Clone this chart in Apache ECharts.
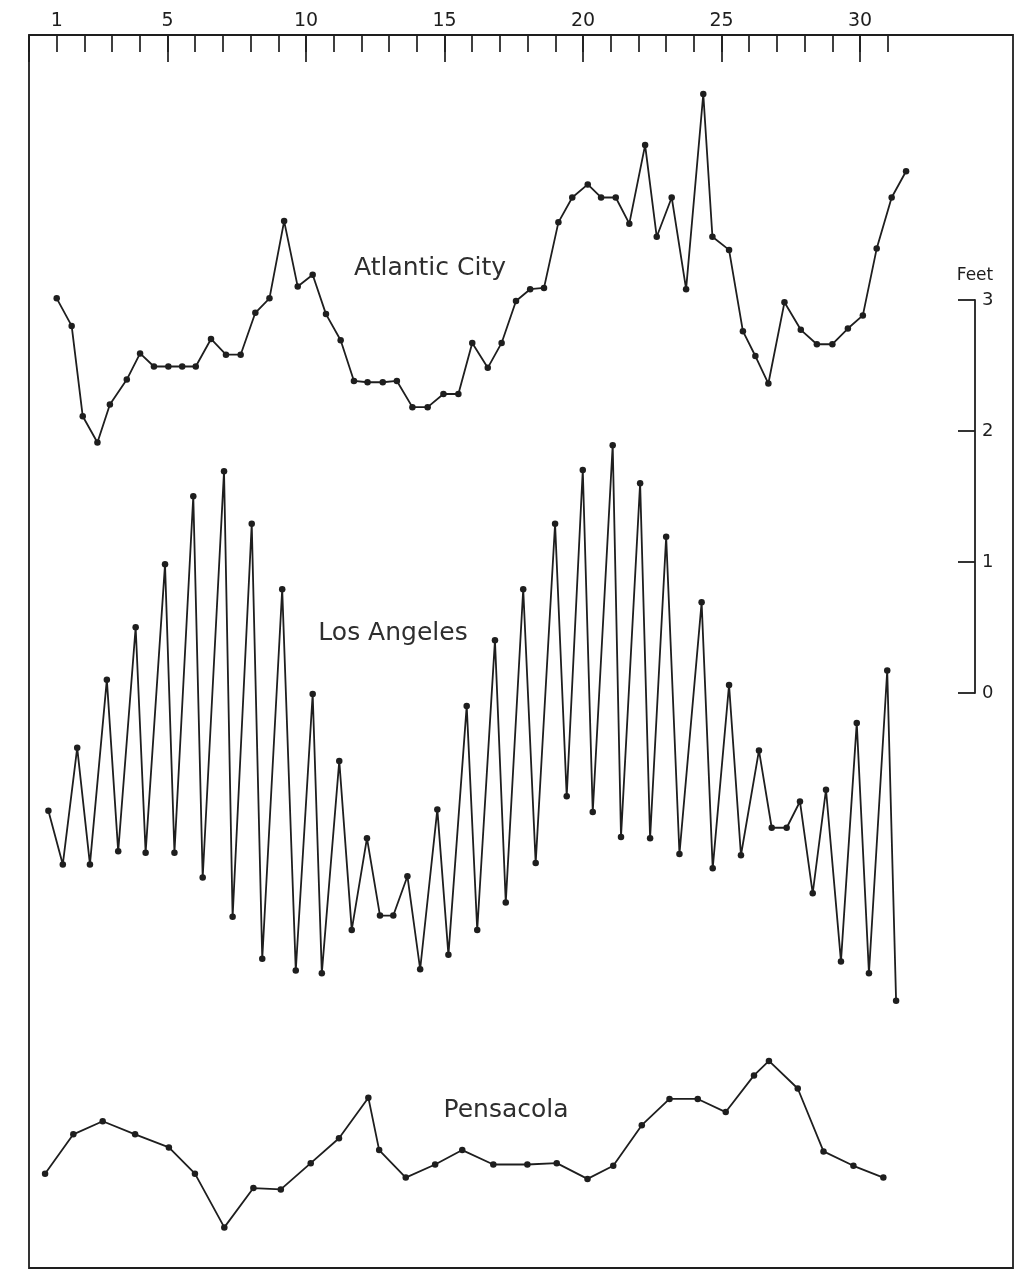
<!DOCTYPE html>
<html>
<head>
<meta charset="utf-8">
<script src="https://cdn.jsdelivr.net/npm/echarts@6.0.0/dist/echarts.min.js"></script>
<style>
  html, body { margin: 0; padding: 0; background: #fff; }
  #tideChart { width: 1024px; height: 1278px; }
</style>
</head>
<body>
<div id="tideChart"></div>
<script>
// day of month (x) and height on the feet scale (y)
const atlanticDays = [1.00, 1.54, 1.94, 2.47, 2.92, 3.53, 4.01, 4.51, 5.03, 5.53, 6.02, 6.57, 7.11, 7.64, 8.17,
  8.68, 9.21, 9.70, 10.24, 10.72, 11.25, 11.73, 12.22, 12.77, 13.28, 13.84, 14.39, 14.96, 15.50, 16.00,
  16.56, 17.06, 17.58, 18.09, 18.59, 19.11, 19.61, 20.17, 20.65, 21.18, 21.67, 22.24, 22.66, 23.20, 23.72,
  24.34, 24.67, 25.27, 25.77, 26.22, 26.69, 27.27, 27.86, 28.44, 29.00, 29.56, 30.10, 30.60, 31.14, 31.66];
const atlanticFeet = [3.01, 2.80, 2.11, 1.91, 2.20, 2.39, 2.59, 2.49, 2.49, 2.49, 2.49, 2.70, 2.58, 2.58, 2.90,
  3.01, 3.60, 3.10, 3.19, 2.89, 2.69, 2.38, 2.37, 2.37, 2.38, 2.18, 2.18, 2.28, 2.28, 2.67,
  2.48, 2.67, 2.99, 3.08, 3.09, 3.59, 3.78, 3.88, 3.78, 3.78, 3.58, 4.18, 3.48, 3.78, 3.08,
  4.57, 3.48, 3.38, 2.76, 2.57, 2.36, 2.98, 2.77, 2.66, 2.66, 2.78, 2.88, 3.39, 3.78, 3.98];

const laDays = [0.70, 1.22, 1.74, 2.20, 2.81, 3.22, 3.85, 4.21, 4.91, 5.25, 5.93, 6.27, 7.04, 7.35, 8.04,
  8.42, 9.14, 9.63, 10.24, 10.57, 11.20, 11.65, 12.20, 12.67, 13.15, 13.66, 14.12, 14.74, 15.14, 15.80,
  16.18, 16.82, 17.21, 17.84, 18.29, 18.99, 19.41, 19.99, 20.35, 21.07, 21.37, 22.06, 22.42, 23.00, 23.48,
  24.28, 24.68, 25.27, 25.70, 26.35, 26.81, 27.35, 27.83, 28.29, 28.77, 29.31, 29.88, 30.32, 30.98, 31.30];
const laFeet = [-0.90, -1.31, -0.42, -1.31, 0.10, -1.21, 0.50, -1.22, 0.98, -1.22, 1.50, -1.41, 1.69, -1.71, 1.29,
  -2.03, 0.79, -2.12, -0.01, -2.14, -0.52, -1.81, -1.11, -1.70, -1.70, -1.40, -2.11, -0.89, -2.00, -0.10,
  -1.81, 0.40, -1.60, 0.79, -1.30, 1.29, -0.79, 1.70, -0.91, 1.89, -1.10, 1.60, -1.11, 1.19, -1.23,
  0.69, -1.34, 0.06, -1.24, -0.44, -1.03, -1.03, -0.83, -1.53, -0.74, -2.05, -0.23, -2.14, 0.17, -2.35];

const pensacolaDays = [0.58, 1.60, 2.66, 3.83, 5.05, 5.99, 7.05, 8.10, 9.09, 10.17, 11.19, 12.25, 12.64, 13.60, 14.66,
  15.64, 16.76, 17.99, 19.05, 20.16, 21.09, 22.12, 23.12, 24.14, 25.15, 26.17, 26.71, 27.75, 28.68, 29.76, 30.84];
const pensacolaFeet = [-3.67, -3.37, -3.27, -3.37, -3.47, -3.67, -4.08, -3.78, -3.79, -3.59, -3.40, -3.09, -3.49, -3.70, -3.60,
  -3.49, -3.60, -3.60, -3.59, -3.71, -3.61, -3.30, -3.10, -3.10, -3.20, -2.92, -2.81, -3.02, -3.50, -3.61, -3.70];

const dayLabels = [1, 5, 10, 15, 20, 25, 30];
const stationNames = ['Atlantic City', 'Los Angeles', 'Pensacola'];

const ink = '#1e1e1e';
const font = 'DejaVu Sans';

function pairs(xs, ys) {
  return xs.map((x, i) => [x, ys[i]]);
}

function tideLine(name, xs, ys) {
  return {
    name: name,
    type: 'line',
    xAxisIndex: 0,
    yAxisIndex: 0,
    data: pairs(xs, ys),
    symbol: 'circle',
    symbolSize: 6.5,
    clip: false,
    lineStyle: { color: ink, width: 1.8 },
    itemStyle: { color: ink },
  };
}

function stationText(name, x, y) {
  return {
    type: 'text', x: x, y: y,
    style: { text: name, font: '25px "DejaVu Sans"', fill: '#2e2e2e', textAlign: 'center', textVerticalAlign: 'middle' },
  };
}

const myChart = echarts.init(document.getElementById('tideChart'));

let option = {
  backgroundColor: '#fff',
  animation: false,
  grid: [
    // frame + data area
    { left: 29, right: 11, top: 35, bottom: 10, show: true, borderColor: ink, borderWidth: 1.8 },
    // day ticks
    { left: 29, top: 35, width: 858.7, height: 1 },
    // long ticks every 5 days
    { left: 29, top: 35, width: 831, height: 1 },
    // feet scale
    { left: 965, top: 300, width: 10, height: 393 },
  ],
  xAxis: [
    { gridIndex: 0, type: 'value', min: 0, max: 35.52, show: false },
    {
      gridIndex: 1, type: 'value', position: 'top', min: 0, max: 31, interval: 1,
      axisLine: { show: false, onZero: false },
      axisTick: { inside: true, length: 17, lineStyle: { color: ink, width: 1.7 } },
      splitLine: { show: false },
      axisLabel: {
        margin: 4, fontSize: 19, fontFamily: font, color: ink,
        formatter: (v) => (dayLabels.indexOf(v) >= 0 ? String(v) : ''),
      },
    },
    {
      gridIndex: 2, type: 'value', position: 'top', min: 0, max: 30, interval: 5,
      axisLine: { show: false, onZero: false },
      axisTick: { inside: true, length: 27, lineStyle: { color: ink, width: 1.7 } },
      splitLine: { show: false },
      axisLabel: { show: false },
    },
    { gridIndex: 3, type: 'value', min: 0, max: 1, show: false },
  ],
  yAxis: [
    { gridIndex: 0, type: 'value', min: -4.39, max: 5.02, show: false },
    { gridIndex: 1, type: 'value', show: false },
    { gridIndex: 2, type: 'value', show: false },
    {
      gridIndex: 3, type: 'value', position: 'right', min: 0, max: 3, interval: 1,
      name: 'Feet', nameLocation: 'end', nameGap: 16,
      nameTextStyle: { fontSize: 17, fontFamily: font, color: ink },
      axisLine: { show: true, onZero: false, lineStyle: { color: ink, width: 1.8 } },
      axisTick: { show: true, inside: true, length: 17, lineStyle: { color: ink, width: 1.8 } },
      splitLine: { show: false },
      axisLabel: { margin: 7, fontSize: 18, fontFamily: font, color: ink },
    },
  ],
  graphic: [
    stationText(stationNames[0], 430, 268),
    stationText(stationNames[1], 393, 633),
    stationText(stationNames[2], 506, 1110),
  ],
  series: [
    tideLine(stationNames[0], atlanticDays, atlanticFeet),
    tideLine(stationNames[1], laDays, laFeet),
    tideLine(stationNames[2], pensacolaDays, pensacolaFeet),
  ],
};

myChart.setOption(option);
</script>
</body>
</html>
